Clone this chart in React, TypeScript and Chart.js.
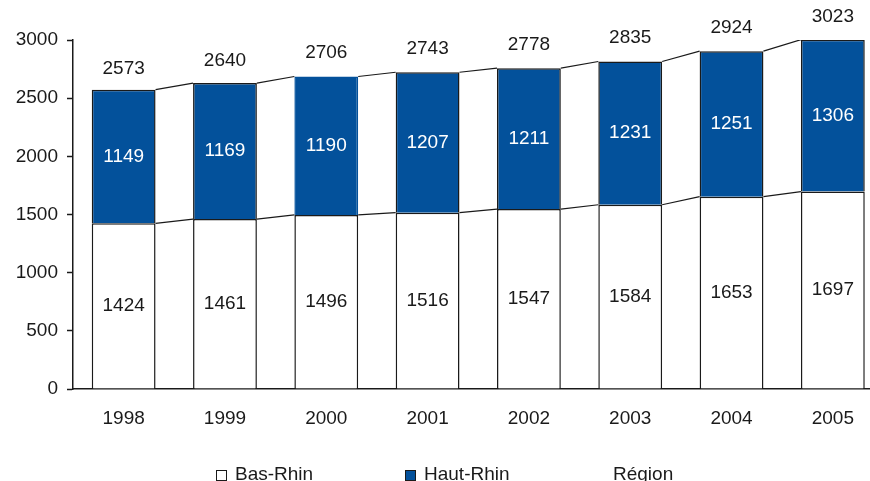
import { useEffect, useRef } from "react";
import { Chart, registerables } from "chart.js";

Chart.register(...registerables);

const years = ["1998", "1999", "2000", "2001", "2002", "2003", "2004", "2005"];
const basRhin = [1424, 1461, 1496, 1516, 1547, 1584, 1653, 1697];
const hautRhin = [1149, 1169, 1190, 1207, 1211, 1231, 1251, 1306];
const region = [2573, 2640, 2706, 2743, 2778, 2835, 2924, 3023];
const yTickValues = [0, 500, 1000, 1500, 2000, 2500, 3000];

const BLUE = "#03519B";
const INK = "#1a1a1a";
const FONT = "'Liberation Sans', Arial, sans-serif";
const FONT_SIZE = 19;

const labelsPlugin = {
  id: "labelsPlugin",
  afterDatasetsDraw(chart: any) {
    const ctx = chart.ctx;
    const area = chart.chartArea;
    ctx.save();
    ctx.beginPath();
    ctx.rect(area.left, area.top, area.right - area.left, area.bottom - area.top);
    ctx.clip();
    ctx.strokeStyle = INK;
    ctx.lineWidth = 1.2;
    chart.data.datasets.forEach((ds: any, di: number) => {
      if (ds.type === "line") return;
      const meta = chart.getDatasetMeta(di);
      for (let i = 0; i < meta.data.length - 1; i++) {
        const a = meta.data[i];
        const b = meta.data[i + 1];
        ctx.beginPath();
        ctx.moveTo(a.x + a.width / 2, a.y);
        ctx.lineTo(b.x - b.width / 2, b.y);
        ctx.stroke();
      }
    });
    ctx.restore();

    ctx.save();
    ctx.font = `${FONT_SIZE}px ${FONT}`;
    ctx.textAlign = "center";
    ctx.textBaseline = "middle";
    chart.data.datasets.forEach((ds: any, di: number) => {
      const meta = chart.getDatasetMeta(di);
      meta.data.forEach((el: any, i: number) => {
        const v = ds.data[i];
        if (ds.type === "line") {
          ctx.fillStyle = INK;
          ctx.fillText(String(v), el.x, el.y - 21);
        } else {
          const top = Math.max(el.y, area.top);
          ctx.fillStyle = ds.labelColor;
          ctx.fillText(String(v), el.x, (top + el.base) / 2);
        }
      });
    });
    ctx.restore();
  },
};

const legendPlugin = {
  id: "legendPlugin",
  afterDraw(chart: any) {
    const ctx = chart.ctx;
    const starts = [216, 405, 594];
    const cy = 475;
    const box = 10;
    ctx.save();
    ctx.font = `${FONT_SIZE}px ${FONT}`;
    ctx.textBaseline = "middle";
    ctx.textAlign = "left";
    chart.data.datasets.forEach((ds: any, i: number) => {
      const x = starts[i];
      if (ds.type !== "line") {
        ctx.fillStyle = ds.legendFill;
        ctx.fillRect(x + 0.5, cy - box / 2 + 0.5, box, box);
        ctx.strokeStyle = INK;
        ctx.lineWidth = 1;
        ctx.strokeRect(x + 0.5, cy - box / 2 + 0.5, box, box);
      }
      ctx.fillStyle = INK;
      ctx.fillText(ds.label, x + 19, cy);
    });
    ctx.restore();
  },
};

export default function App() {
  const ref = useRef<HTMLCanvasElement | null>(null);

  useEffect(() => {
    if (!ref.current) return;
    const chart = new Chart(ref.current, {
      type: "bar",
      data: {
        labels: years,
        datasets: [
          {
            type: "bar",
            label: "Bas-Rhin",
            data: basRhin,
            backgroundColor: "#ffffff",
            borderColor: INK,
            borderWidth: 1.5,
            stack: "rhin",
            labelColor: INK,
            legendFill: "#ffffff",
          } as any,
          {
            type: "bar",
            label: "Haut-Rhin",
            data: hautRhin,
            backgroundColor: BLUE,
            borderColor: years.map((y) => (y === "2000" ? BLUE : INK)),
            borderWidth: 1.5,
            stack: "rhin",
            labelColor: "#ffffff",
            legendFill: BLUE,
          } as any,
          {
            type: "line",
            label: "Région",
            data: region,
            showLine: false,
            pointRadius: 0,
            borderColor: "transparent",
            backgroundColor: "transparent",
            stack: "region",
          } as any,
        ],
      },
      options: {
        responsive: false,
        animation: false,
        events: [],
        layout: { padding: { left: 0, top: 40, right: 16.5, bottom: 47 } },
        datasets: { bar: { categoryPercentage: 1, barPercentage: 0.63 } },
        plugins: {
          legend: { display: false },
          tooltip: { enabled: false },
        },
        scales: {
          x: {
            stacked: true,
            grid: { display: false, drawTicks: false, drawOnChartArea: false },
            border: { display: true, color: INK, width: 1.5 },
            ticks: {
              color: INK,
              font: { family: FONT, size: FONT_SIZE },
              padding: 18,
              maxRotation: 0,
            },
            afterFit(scale: any) {
              scale.height = 45;
            },
          },
          y: {
            stacked: true,
            min: 0,
            max: 3000,
            afterBuildTicks(scale: any) {
              scale.ticks = yTickValues.map((v) => ({ value: v }));
            },
            grid: {
              drawOnChartArea: false,
              drawTicks: true,
              tickLength: 6,
              tickWidth: 1.5,
              color: INK,
            },
            border: { display: true, color: INK, width: 1.5 },
            ticks: {
              color: INK,
              font: { family: FONT, size: FONT_SIZE },
              padding: 9,
              callback: (v: any) => String(v),
            },
            afterFit(scale: any) {
              scale.width = 73;
            },
          },
        },
      } as any,
      plugins: [labelsPlugin, legendPlugin],
    });
    return () => chart.destroy();
  }, []);

  return (
    <div style={{ position: "fixed", left: 0, top: 0, width: 900, height: 481, background: "#fff" }}>
      <canvas ref={ref} width={900} height={481} style={{ width: 900, height: 481, display: "block" }} />
    </div>
  );
}
